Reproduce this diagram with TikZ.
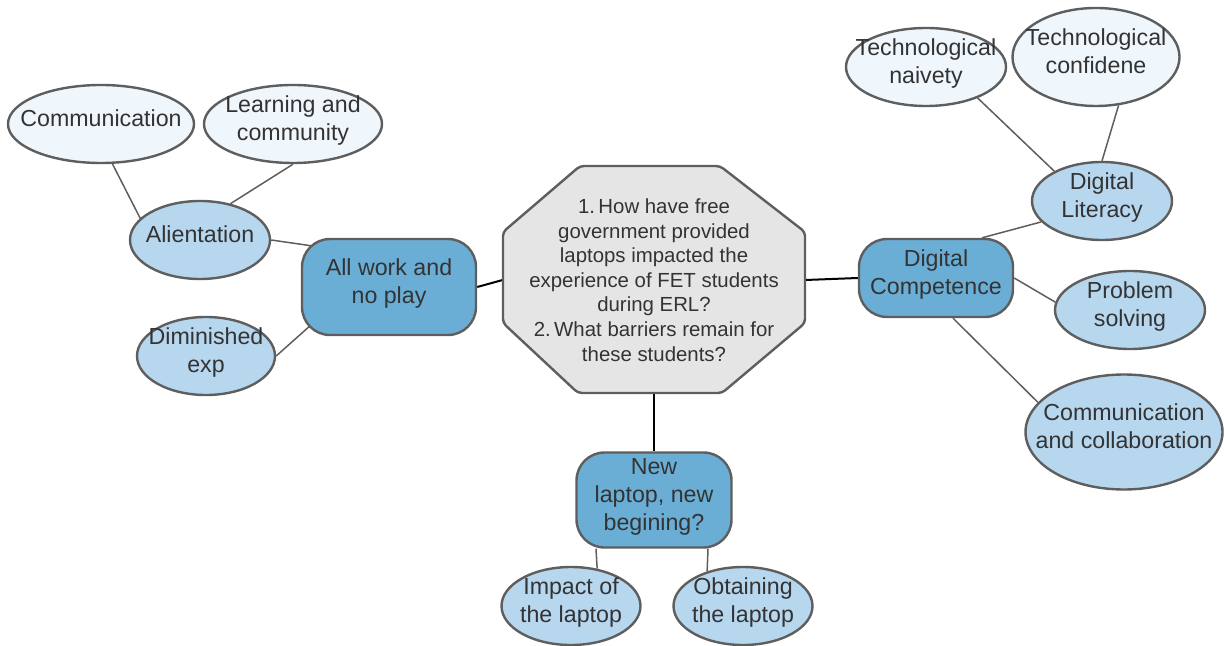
\documentclass[tikz,border=0pt]{standalone}
\usepackage{fontspec}
\setmainfont{Liberation Sans}
\usetikzlibrary{shapes.geometric,backgrounds}
\definecolor{edgegray}{HTML}{5E5E5E}
\definecolor{hubfill}{HTML}{E5E5E5}
\definecolor{midblue}{HTML}{6AAED6}
\definecolor{lightblue}{HTML}{B7D7EF}
\definecolor{paleblue}{HTML}{F0F7FC}
\definecolor{inktext}{HTML}{333333}
\newcommand{\lbl}[1]{\makebox[0pt]{\raisebox{-.12em}[0pt][0pt]{\begin{tabular}{@{}c@{}}#1\end{tabular}}}}

\begin{document}
\begin{tikzpicture}[x=0.5pt,y=-0.5pt]
  \tikzstyle{every node}+=[inner sep=0pt, text=inktext, font=\fontsize{11.6}{14}\selectfont]
  \tikzstyle{topic}=[draw=edgegray, line width=1.2pt, fill=midblue, rounded corners=14pt]
  \tikzstyle{sub}=[draw=edgegray, line width=1.2pt, ellipse, fill=lightblue]
  \tikzstyle{leaf}=[sub, fill=paleblue]
  \tikzstyle{link}=[draw=edgegray, line width=.75pt]
  \tikzstyle{spoke}=[draw=black, line width=1pt]
  \useasboundingbox (0,0) rectangle (1224,646);
  % research questions
  \draw [draw=edgegray, line width=1.2pt, fill=hubfill, rounded corners=2pt]
    (580,166) -- (720,166) -- (805,232) -- (805,323) -- (722,393) -- (578,393) -- (503,323) -- (503,232) -- cycle;
  \node [align=center, font=\fontsize{10.2}{12.3}\selectfont, minimum width=151pt, minimum height=113.5pt] (q) at (654,280)
    {1.\,How have free\\government provided\\laptops impacted the\\experience of FET students\\during ERL?\\2.\,What barriers remain for\\these students?};
  % left branch
  \node [topic, minimum width=87pt, minimum height=48pt] (work) at (389,287) {\lbl{All work and\\no play}};
  \node [sub, minimum width=70pt, minimum height=39pt] (alien) at (200,240) {\lbl{Alientation}};
  \node [sub, minimum width=69pt, minimum height=39pt] (dim) at (206,356) {\lbl{Diminished\\exp}};
  \node [leaf, minimum width=93pt, minimum height=39pt] (comm) at (101,124) {\lbl{Communication}};
  \node [leaf, minimum width=89pt, minimum height=39pt] (learn) at (293,124) {\lbl{Learning and\\community}};
  % right branch
  \node [topic, minimum width=77pt, minimum height=39pt] (comp) at (936,278) {\lbl{Digital\\Competence}};
  \node [sub, minimum width=70pt, minimum height=39pt] (lit) at (1102,201) {\lbl{Digital\\Literacy}};
  \node [sub, minimum width=75pt, minimum height=39pt] (prob) at (1130,310) {\lbl{Problem\\solving}};
  \node [sub, minimum width=98.5pt, minimum height=57.5pt] (collab) at (1124,432) {\lbl{Communication\\and collaboration}};
  \node [leaf, minimum width=80pt, minimum height=39pt] (naiv) at (926,67) {\lbl{Technological\\naivety}};
  \node [leaf, minimum width=83.5pt, minimum height=49pt] (conf) at (1096,57) {\lbl{Technological\\confidene}};
  % bottom branch
  \node [topic, minimum width=77.5pt, minimum height=47.5pt] (laptop) at (654,500) {\lbl{New\\laptop, new\\begining?}};
  \node [sub, minimum width=69.5pt, minimum height=39pt] (impact) at (571,606) {\lbl{Impact of\\the laptop}};
  \node [sub, minimum width=69.5pt, minimum height=39pt] (obtain) at (743,606) {\lbl{Obtaining\\the laptop}};
  \begin{scope}[on background layer]
    \draw [spoke] (work.east) -- (q.west);
    \draw [spoke] (q.east) -- (comp.west);
    \draw [spoke] (q.south) -- (laptop.north);
    \draw [link] (comm.-74) -- (alien.160);
    \draw [link] (learn.south) -- (alien.50);
    \draw [link] (alien.east) -- ([shift={(28,10.5)}]work.north west);
    \draw [link] (dim.east) -- ([shift={(20,-20)}]work.south west);
    \draw [link] (naiv.-31) -- (lit.148);
    \draw [link] (conf.-65) -- (lit.north);
    \draw [link] (lit.199) -- ([shift={(46,0)}]comp.north);
    \draw [link] (comp.east) -- (prob.174);
    \draw [link] ([shift={(17,0)}]comp.south) -- (collab.161);
    \draw [link] ([shift={(-58,0)}]laptop.south) -- (impact.55.5);
    \draw [link] ([shift={(54,0)}]laptop.south) -- (obtain.136);
  \end{scope}
\end{tikzpicture}
\end{document}
